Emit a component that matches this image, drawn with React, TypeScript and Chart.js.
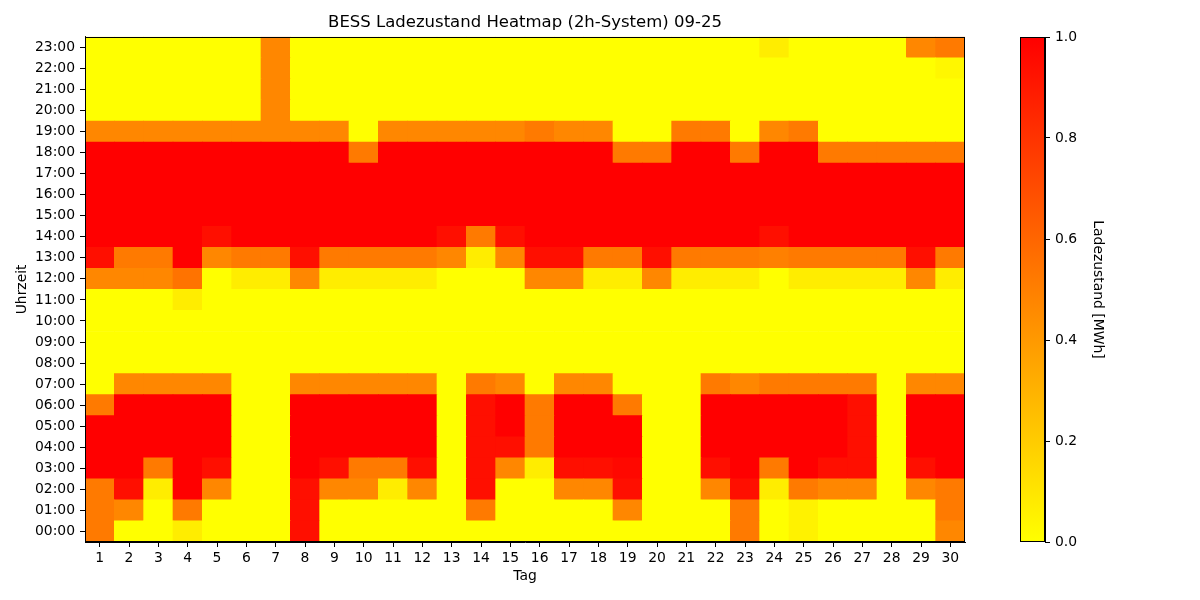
import React, { useEffect, useRef } from "react";
import { Chart, registerables } from "chart.js";

Chart.register(...registerables);

const days = Array.from({ length: 30 }, (_, i) => String(i + 1));
const hourLabels = [
  "00:00", "01:00", "02:00", "03:00", "04:00", "05:00", "06:00", "07:00",
  "08:00", "09:00", "10:00", "11:00", "12:00", "13:00", "14:00", "15:00",
  "16:00", "17:00", "18:00", "19:00", "20:00", "21:00", "22:00", "23:00",
];
const colorbarTicks = [0, 0.2, 0.4, 0.6, 0.8, 1.0];

// State of charge per hour, days 1..30
const h00 = [0.52,0,0,0.07,0,0,0,0.94,0,0,0,0,0,0,0,0,0,0,0,0,0,0,0.52,0,0.05,0,0,0,0,0.47];
const h01 = [0.52,0.47,0,0.52,0,0,0,0.94,0,0,0,0,0,0.52,0,0,0,0,0.47,0,0,0,0.52,0,0.05,0,0,0,0,0.52];
const h02 = [0.52,0.94,0.07,1,0.47,0,0,0.94,0.47,0.47,0.07,0.47,0,0.94,0,0,0.47,0.47,0.94,0,0,0.47,0.94,0.07,0.52,0.47,0.47,0,0.47,0.52];
const h03 = [1,1,0.52,1,0.94,0,0,1,0.94,0.52,0.52,0.94,0,0.94,0.47,0.07,0.94,0.94,0.97,0,0,0.94,1,0.52,1,0.94,0.94,0,0.94,1];
const h04 = [1,1,1,1,1,0,0,1,1,1,1,1,0,0.94,0.94,0.52,1,1,1,0,0,1,1,1,1,1,0.94,0,1,1];
const h05 = [1,1,1,1,1,0,0,1,1,1,1,1,0,0.94,1,0.52,1,1,1,0,0,1,1,1,1,1,0.94,0,1,1];
const h06 = [0.52,1,1,1,1,0,0,1,1,1,1,1,0,0.94,1,0.52,1,1,0.52,0,0,1,1,1,1,1,0.94,0,1,1];
const h07 = [0,0.47,0.47,0.47,0.47,0,0,0.47,0.47,0.47,0.47,0.47,0,0.52,0.47,0,0.47,0.47,0,0,0,0.52,0.47,0.52,0.52,0.52,0.52,0,0.47,0.47];
const h08 = [0,0,0,0,0,0,0,0,0,0,0,0,0,0,0,0,0,0,0,0,0,0,0,0,0,0,0,0,0,0];
const h09 = [0,0,0,0,0,0,0,0,0,0,0,0,0,0,0,0,0,0,0,0,0,0,0,0,0,0,0,0,0,0];
const h10 = [0,0,0,0,0,0,0,0,0,0,0,0,0,0,0,0,0,0,0,0,0,0,0,0,0,0,0,0,0,0];
const h11 = [0,0,0,0.07,0,0,0,0,0,0,0,0,0,0,0,0,0,0,0,0,0,0,0,0,0,0,0,0,0,0];
const h12 = [0.47,0.47,0.47,0.55,0,0.07,0.07,0.47,0.07,0.07,0.07,0.07,0,0,0,0.47,0.47,0.07,0.07,0.47,0.07,0.07,0.07,0,0.07,0.07,0.07,0.07,0.47,0.07];
const h13 = [0.94,0.52,0.52,1,0.47,0.52,0.52,0.94,0.52,0.52,0.52,0.52,0.47,0.07,0.47,0.94,0.94,0.52,0.52,0.94,0.52,0.52,0.52,0.5,0.52,0.52,0.52,0.52,0.94,0.52];
const h14 = [1,1,1,1,0.94,1,1,1,1,1,1,1,0.94,0.52,0.94,1,1,1,1,1,1,1,1,0.94,1,1,1,1,1,1];
const h15 = [1,1,1,1,1,1,1,1,1,1,1,1,1,1,1,1,1,1,1,1,1,1,1,1,1,1,1,1,1,1];
const h16 = [1,1,1,1,1,1,1,1,1,1,1,1,1,1,1,1,1,1,1,1,1,1,1,1,1,1,1,1,1,1];
const h17 = [1,1,1,1,1,1,1,1,1,1,1,1,1,1,1,1,1,1,1,1,1,1,1,1,1,1,1,1,1,1];
const h18 = [1,1,1,1,1,1,1,1,1,0.52,1,1,1,1,1,1,1,1,0.52,0.52,1,1,0.52,1,1,0.52,0.52,0.52,0.52,0.52];
const h19 = [0.47,0.47,0.47,0.47,0.47,0.47,0.47,0.47,0.47,0,0.47,0.47,0.47,0.47,0.47,0.52,0.47,0.47,0,0,0.52,0.52,0,0.47,0.52,0,0,0,0,0];
const h20 = [0,0,0,0,0,0,0.47,0,0,0,0,0,0,0,0,0,0,0,0,0,0,0,0,0,0,0,0,0,0,0];
const h21 = [0,0,0,0,0,0,0.47,0,0,0,0,0,0,0,0,0,0,0,0,0,0,0,0,0,0,0,0,0,0,0];
const h22 = [0,0,0,0,0,0,0.47,0,0,0,0,0,0,0,0,0,0,0,0,0,0,0,0,0,0,0,0,0,0,0.03];
const h23 = [0,0,0,0,0,0,0.47,0,0,0,0,0,0,0,0,0,0,0,0,0,0,0,0,0.07,0,0,0,0,0.47,0.52];

const hourRows = [h00,h01,h02,h03,h04,h05,h06,h07,h08,h09,h10,h11,h12,h13,h14,h15,h16,h17,h18,h19,h20,h21,h22,h23];

const FONT = "'DejaVu Sans', sans-serif";

function autumnR(v: number): string {
  const t = Math.max(0, Math.min(1, v));
  return `rgb(255, ${Math.round(255 * (1 - t))}, 0)`;
}

const frame = {
  id: "frame",
  afterDraw(chart: any) {
    const { ctx, chartArea } = chart;
    ctx.save();
    ctx.strokeStyle = "#000";
    ctx.lineWidth = 1;
    ctx.strokeRect(
      Math.round(chartArea.left) + 0.5,
      Math.round(chartArea.top) + 0.5,
      Math.round(chartArea.right - chartArea.left) - 1,
      Math.round(chartArea.bottom - chartArea.top) - 1
    );
    ctx.restore();
  },
};

export default function App() {
  const mainRef = useRef<HTMLCanvasElement>(null);
  const cbRef = useRef<HTMLCanvasElement>(null);

  useEffect(() => {
    const tickFont = { family: FONT, size: 13.9 };
    const main = new Chart(mainRef.current as HTMLCanvasElement, {
      type: "bar",
      data: {
        labels: days,
        datasets: hourRows.map((row, h) => ({
          label: hourLabels[h],
          data: row.map(() => 1),
          backgroundColor: row.map(autumnR),
          borderWidth: 0,
          barPercentage: 1,
          categoryPercentage: 1,
        })),
      },
      options: {
        animation: false,
        responsive: false,
        devicePixelRatio: 1,
        layout: { padding: 0 },
        plugins: {
          legend: { display: false },
          tooltip: { enabled: false },
          title: {
            display: true,
            text: "BESS Ladezustand Heatmap (2h-System) 09-25",
            color: "#000",
            font: { family: FONT, size: 16.5, weight: "normal" },
            padding: { top: 13, bottom: 4 },
          },
        },
        scales: {
          x: {
            stacked: true,
            offset: true,
            grid: {
              offset: false,
              drawOnChartArea: false,
              drawTicks: true,
              tickLength: 5,
              color: "#000",
            },
            border: { display: true, color: "#000", width: 1 },
            ticks: { color: "#000", font: tickFont, padding: 3, maxRotation: 0, autoSkip: false },
            title: {
              display: true,
              text: "Tag",
              color: "#000",
              font: { family: FONT, size: 13.9 },
              padding: { top: 0, bottom: 15 },
            },
            afterFit: (scale: any) => {
              scale.height = 58;
            },
          },
          y: {
            stacked: true,
            min: 0,
            max: 24,
            grid: {
              drawOnChartArea: false,
              drawTicks: true,
              tickLength: 5,
              color: "#000",
            },
            border: { display: true, color: "#000", width: 1 },
            afterBuildTicks: (scale: any) => {
              scale.ticks = hourLabels.map((_, i) => ({ value: i + 0.5 }));
            },
            ticks: {
              color: "#000",
              font: tickFont,
              padding: 5,
              autoSkip: false,
              callback: (_v: any, i: number) => hourLabels[i],
            },
            title: {
              display: true,
              text: "Uhrzeit",
              color: "#000",
              font: { family: FONT, size: 13.9 },
              padding: { top: 14, bottom: 0 },
            },
            afterFit: (scale: any) => {
              scale.width = 85;
            },
          },
          yRightSpace: {
            type: "linear",
            position: "right",
            display: true,
            min: 0,
            max: 1,
            grid: { display: false, drawTicks: false },
            border: { display: false },
            ticks: { display: false },
            afterFit: (scale: any) => {
              scale.width = 85;
            },
          },
        },
      },
      plugins: [frame],
    } as any);

    const cb = new Chart(cbRef.current as HTMLCanvasElement, {
      type: "bar",
      data: {
        labels: ["Ladezustand"],
        datasets: [
          {
            data: [[colorbarTicks[0], colorbarTicks[colorbarTicks.length - 1]]],
            backgroundColor: (ctx: any) => {
              const { chart } = ctx;
              const area = chart.chartArea;
              if (!area) return "#ff8800";
              const g = chart.ctx.createLinearGradient(0, area.bottom, 0, area.top);
              g.addColorStop(0, autumnR(0));
              g.addColorStop(1, autumnR(1));
              return g;
            },
            borderWidth: 0,
            barPercentage: 1,
            categoryPercentage: 1,
          },
        ],
      },
      options: {
        animation: false,
        responsive: false,
        devicePixelRatio: 1,
        layout: { padding: { left: 20, right: 94, top: 37, bottom: 58 } },
        plugins: {
          legend: { display: false },
          tooltip: { enabled: false },
          title: { display: false },
        },
        scales: {
          x: { display: false },
          y: {
            position: "right",
            min: 0,
            max: 1,
            grid: {
              drawOnChartArea: false,
              drawTicks: true,
              tickLength: 5,
              color: "#000",
            },
            border: { display: true, color: "#000", width: 1 },
            afterBuildTicks: (scale: any) => {
              scale.ticks = colorbarTicks.map((v) => ({ value: v }));
            },
            ticks: {
              color: "#000",
              font: tickFont,
              padding: 5,
              callback: (v: any) => Number(v).toFixed(1),
            },
            title: {
              display: true,
              text: "Ladezustand [MWh]",
              color: "#000",
              font: { family: FONT, size: 13.9 },
              padding: { top: 0, bottom: 0 },
            },
            afterFit: (scale: any) => {
              scale.width = 61;
            },
          },
        },
      },
      plugins: [frame],
    } as any);

    return () => {
      main.destroy();
      cb.destroy();
    };
  }, []);

  return (
    <div style={{ position: "fixed", left: 0, top: 0, width: 1200, height: 600, background: "#fff" }}>
      <canvas
        ref={mainRef}
        width={1050}
        height={600}
        style={{ position: "absolute", left: 0, top: 0, width: 1050, height: 600 }}
      />
      <canvas
        ref={cbRef}
        width={200}
        height={600}
        style={{ position: "absolute", left: 1000, top: 0, width: 200, height: 600 }}
      />
    </div>
  );
}
